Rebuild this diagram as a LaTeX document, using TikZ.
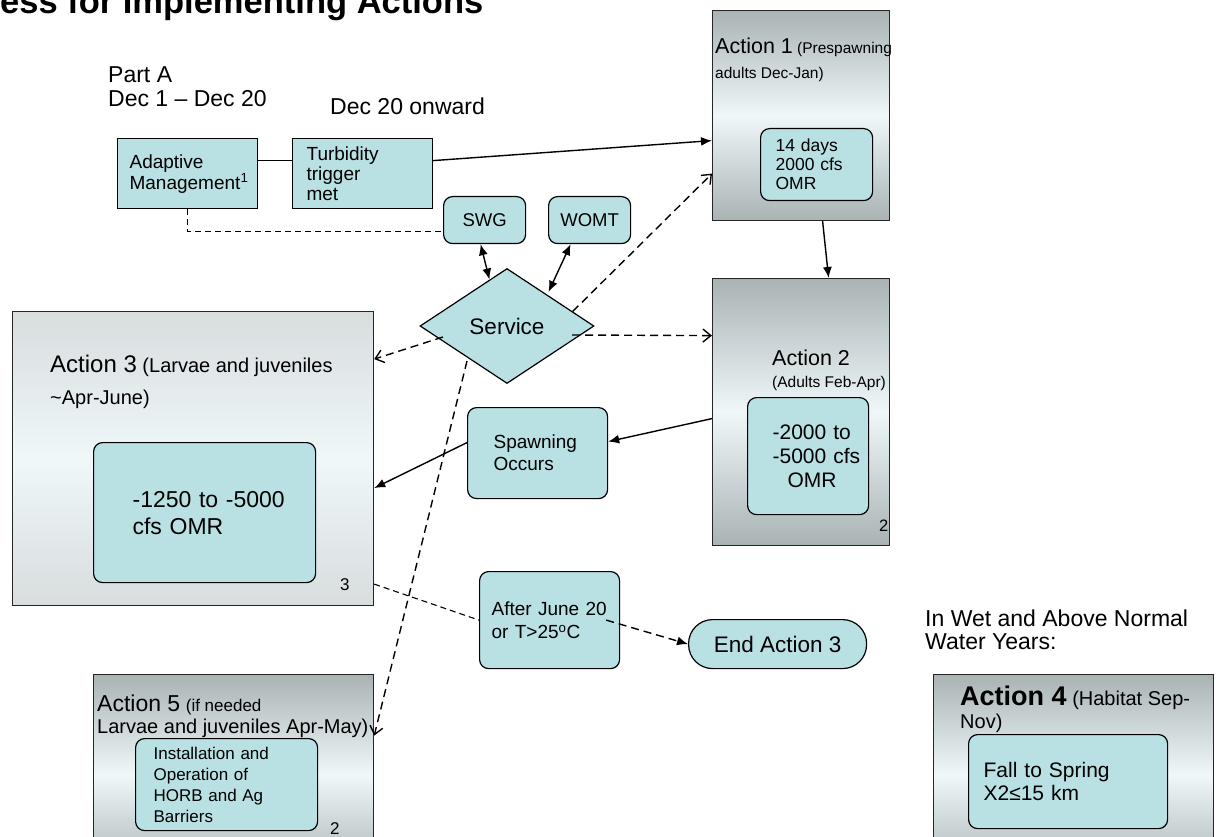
\documentclass[tikz,border=0pt]{standalone}
\usepackage{fontspec}
\setmainfont{Liberation Sans}
\usetikzlibrary{
  arrows.meta,
  positioning,
  calc,
  shapes.geometric
}
\definecolor{BoxCyan}{RGB}{185,224,227}
\definecolor{ActDark}{RGB}{169,179,180}
\definecolor{ActLight}{RGB}{239,247,249}
\definecolor{ActPale}{RGB}{216,221,222}
\newcommand{\pxfont}[2]{\fontsize{#1}{#2}\selectfont}
\tikzset{
  cyanbox/.style={
    draw=black,
    fill=BoxCyan,
    line width=1.2pt,
    anchor=north west,
    inner ysep=0pt,
    align=left
  },
  roundbox/.style={cyanbox, rounded corners=9pt},
  actionbox/.style={
    draw=black!85,
    line width=1.2pt,
    anchor=north west,
    inner sep=0pt,
    top color=ActDark,
    bottom color=ActDark,
    middle color=ActLight
  },
  paleaction/.style={actionbox, top color=ActPale, bottom color=ActPale, middle color=ActLight},
  txt/.style={anchor=base west, inner sep=0pt},
  txtnw/.style={anchor=north west, inner sep=0pt, align=left},
  arrow/.style={-{Latex[length=11pt,width=9pt]}, line width=1.4pt},
  twoarrow/.style={{Latex[length=11pt,width=9pt]}-{Latex[length=11pt,width=9pt]}, line width=1.4pt},
  dasharrow/.style={-{Straight Barb[length=8pt,width=13pt]}, line width=1.4pt, dash pattern=on 8pt off 5pt},
  dashfill/.style={-{Latex[length=11pt,width=9pt]}, line width=1.4pt, dash pattern=on 8pt off 5pt},
  dashline/.style={line width=1.1pt, dash pattern=on 6pt off 4pt}
}

\begin{document}
\begin{tikzpicture}[x=1pt, y=-1pt]
  \useasboundingbox (0,0) rectangle (1221,837);

  % headings
  \node[txt, font=\bfseries\pxfont{34.5}{40}] (title) at (0,14) {ess for Implementing Actions};
  \node[txtnw, font=\pxfont{23}{23.5}] (parta) at (108,66.5) {Part A\\Dec 1 – Dec 20};
  \node[txt, font=\pxfont{23}{28}] (onward) at (330,115) {Dec 20 onward};
  \node[txtnw, font=\pxfont{23}{23}] (wet) at (925,609.5) {In Wet and Above Normal\\Water Years:};

  % part A boxes
  \node[cyanbox, minimum height=70pt, text width=116pt, inner xsep=12pt, font=\pxfont{19}{21}] (adapt) at (117,138) {Adaptive\\Management\textsuperscript{1}};
  \node[cyanbox, minimum height=70pt, text width=112pt, inner xsep=14pt, font=\pxfont{19}{20}] (turb) at (292,138) {Turbidity\\trigger\\met};

  % working groups and Service
  \node[roundbox, minimum width=82pt, minimum height=47pt, align=center, font=\pxfont{18.5}{22}] (swg) at (443,196) {SWG};
  \node[roundbox, minimum width=82pt, minimum height=47pt, align=center, font=\pxfont{18.5}{22}] (womt) at (548,196) {WOMT};
  \node[diamond, draw=black, fill=BoxCyan, line width=1.2pt, minimum width=174pt, minimum height=115pt, inner sep=0pt, font=\pxfont{22.5}{27}] (serv) at (507,326) {Service};

  % Action 1
  \node[actionbox, minimum width=177pt, minimum height=210pt] (act1) at (712,10) {};
  \node[txtnw, font=\pxfont{15.5}{25}] (act1txt) at (715,37.6) {{\pxfont{21.5}{25}Action 1} (Prespawning\\adults Dec-Jan)};
  \node[roundbox, minimum height=72pt, text width=82pt, inner xsep=15pt, font=\pxfont{17.5}{19}] (act1in) at (760,128) {14 days\\2000 cfs\\OMR};

  % Action 2
  \node[actionbox, minimum width=177pt, minimum height=267pt] (act2) at (712,278) {};
  \node[txtnw, font=\pxfont{15.5}{22}] (act2txt) at (772,349.6) {{\pxfont{21.5}{22}Action 2}\\(Adults Feb-Apr)};
  \node[roundbox, minimum height=117pt, text width=71pt, inner xsep=25pt, font=\pxfont{21}{24}] (act2in) at (747,397) {\mbox{-2000 to}\\\mbox{-5000 cfs}\\\hspace*{15pt}OMR};
  \node[txt, font=\pxfont{16.5}{20}] (act2num) at (879,531) {2};

  % Action 3
  \node[paleaction, minimum width=361pt, minimum height=294pt] (act3) at (12,311) {};
  \node[txtnw, font=\pxfont{20}{32}] (act3txt) at (50,354.8) {{\pxfont{24}{32}Action 3} (Larvae and juveniles\\\textasciitilde Apr-June)};
  \node[roundbox, minimum height=140pt, text width=144pt, inner xsep=39pt, font=\pxfont{23}{27}] (act3in) at (93,442) {\mbox{-1250 to -5000}\\cfs OMR};
  \node[txt, font=\pxfont{17}{20}] (act3num) at (340,590) {3};

  % Action 5
  \node[actionbox, minimum width=280pt, minimum height=200pt] (act5) at (93,674) {};
  \node[txtnw, font=\pxfont{20}{22}] (act5txt) at (97,695) {{\pxfont{23}{22}Action 5} {\pxfont{17}{22}(if needed}\\Larvae and juveniles Apr-May)};
  \node[roundbox, minimum height=92pt, text width=146pt, inner xsep=18pt, font=\pxfont{17}{21}] (act5in) at (135,738) {Installation and\\Operation of\\HORB and Ag\\Barriers};
  \node[txt, font=\pxfont{17}{20}] (act5num) at (330,834) {2};

  % Action 4
  \node[actionbox, minimum width=280pt, minimum height=200pt] (act4) at (933,674) {};
  \node[txtnw, font=\pxfont{20}{23}] (act4txt) at (960,686) {{\bfseries\pxfont{27}{23}Action 4} (Habitat Sep-\\Nov)};
  \node[roundbox, minimum height=94pt, text width=169pt, inner xsep=15pt, font=\pxfont{21}{23}] (act4in) at (968,734) {Fall to Spring\\X2≤15 km};

  % spawning and end of Action 3
  \node[roundbox, minimum height=91pt, text width=88pt, inner xsep=26pt, font=\pxfont{19}{22}] (spawn) at (467,407) {Spawning\\Occurs};
  \node[roundbox, minimum height=97pt, text width=116pt, inner xsep=12pt, font=\pxfont{19}{23}] (after) at (479,571) {After~June~20\\or T>25\textsuperscript{o}C};
  \node[roundbox, rounded corners=24pt, minimum width=178pt, minimum height=49pt, align=center, font=\pxfont{22.5}{27}] (endact) at (688,619) {End Action 3};

  % connectors
  \draw[line width=1.4pt] ([yshift=13pt]adapt.east) -- ([yshift=13pt]turb.west);
  \draw[arrow] ([yshift=13pt]turb.east) -- ([yshift=-25pt]act1.west);
  \draw[arrow] ([xshift=21.5pt]act1.south) -- ([xshift=27.5pt]act2.north);
  \draw[dashline] (adapt.south) |- ([yshift=-11.5pt]swg.west);
  \draw[twoarrow] ([xshift=-4pt]swg.south) -- ($(serv.north)!0.2!(serv.west)$);
  \draw[twoarrow, shorten >=3pt] ([xshift=-19pt]womt.south) -- ($(serv.north)!0.46!(serv.east)$);
  \draw[dasharrow] ($(serv.north)!0.75!(serv.east)$) -- ([yshift=-58pt]act1.west);
  \draw[dasharrow] ([shift={(65pt,-9pt)}]serv.center) -- ([yshift=76.5pt]act2.west);
  \draw[dasharrow] ([shift={(-64pt,-11pt)}]serv.center) -- ([yshift=99.5pt]act3.east);
  \draw[dasharrow] ([shift={(-40pt,-35pt)}]serv.center) -- ([yshift=39pt]act5.east);
  \draw[arrow] ([yshift=-6.5pt]act2.west) -- ([yshift=11.5pt]spawn.east);
  \draw[arrow] ([yshift=10.5pt]spawn.west) -- ([yshift=-29.5pt]act3.east);
  \draw[dashline] ([yshift=-125.5pt]act3.east) -- (after.west);
  \draw[dashfill] ([xshift=-14pt]after.east) -- (endact.west);
\end{tikzpicture}
\end{document}
